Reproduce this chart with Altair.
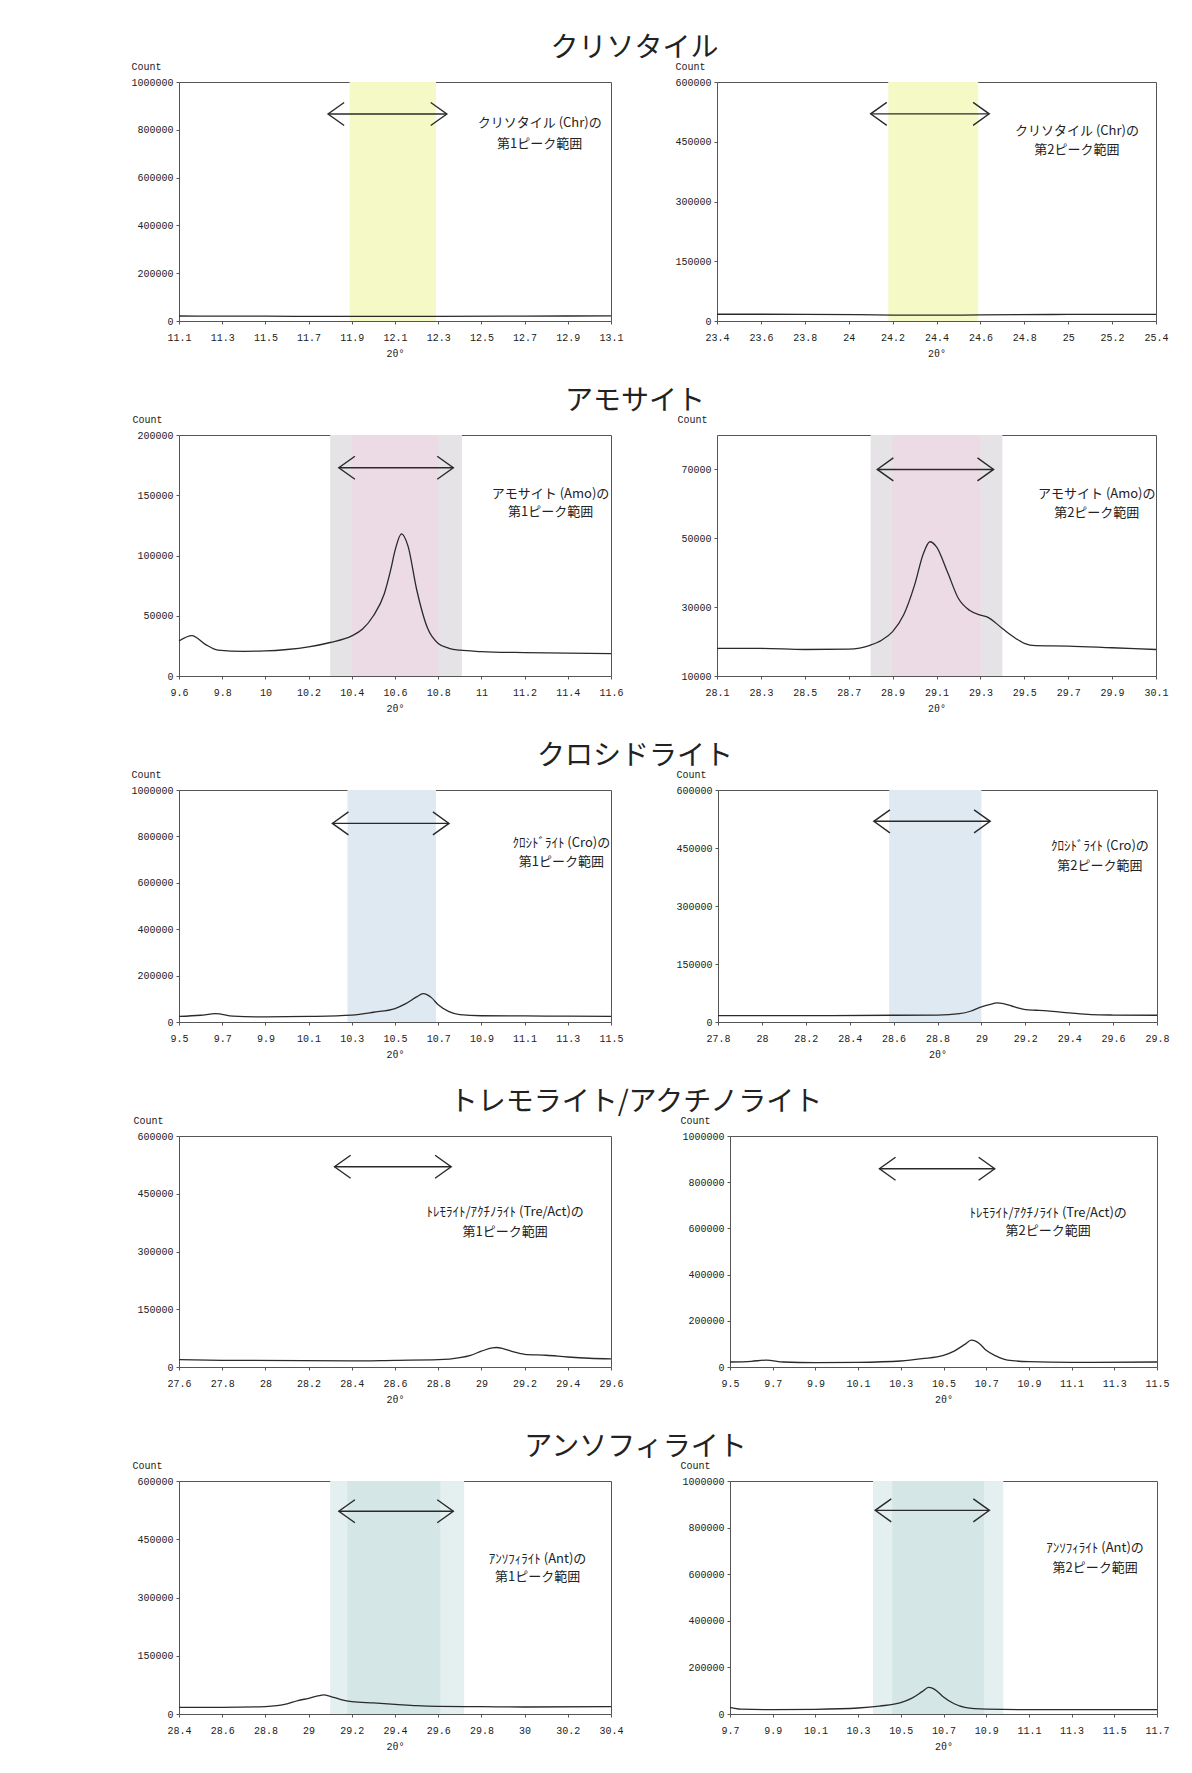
import altair as alt
import pandas as pd

JP = "Noto Sans CJK JP"
NUM = "Liberation Mono"
INK = "#2a2a2a"

# ---------------- text ----------------
row_titles = ["クリソタイル", "アモサイト", "クロシドライト", "トレモライト/アクチノライト", "アンソフィライト"]
note_names = ["クリソタイル (Chr)の", "アモサイト (Amo)の", "ｸﾛｼﾄﾞﾗｲﾄ (Cro)の",
              "ﾄﾚﾓﾗｲﾄ/ｱｸﾁﾉﾗｲﾄ (Tre/Act)の", "ｱﾝｿﾌｨﾗｲﾄ (Ant)の"]
note_ranges = ["第1ピーク範囲", "第2ピーク範囲"]

# ---------------- spectra (2θ, count) ----------------
chr1_x = [11.1, 11.5, 11.9, 12.3, 12.7, 13.1]
chr1_y = [21000, 20000, 19000, 19500, 20500, 21500]
chr2_x = [23.4, 23.8, 24.2, 24.4, 24.6, 25.0, 25.4]
chr2_y = [17000, 16800, 15000, 14500, 15200, 16500, 16800]

amo1_x = [9.6, 9.66, 9.72, 9.78, 9.9, 10.0, 10.1, 10.2, 10.3, 10.4, 10.45, 10.5, 10.55, 10.58,
          10.6, 10.63, 10.66, 10.7, 10.75, 10.8, 10.85, 10.9, 11.0, 11.2, 11.4, 11.6]
amo1_y = [29000, 33500, 26500, 21500, 20500, 20800, 22000, 24200, 27800, 33300, 39000, 50000, 68000, 88000,
          104000, 118000, 108000, 72000, 40000, 27000, 23000, 21400, 20300, 19400, 18900, 18600]
amo2_x = [28.1, 28.3, 28.5, 28.7, 28.8, 28.85, 28.9, 28.95, 29.0, 29.04, 29.07, 29.1, 29.15, 29.2,
          29.25, 29.3, 29.33, 29.4, 29.45, 29.5, 29.55, 29.7, 29.9, 30.1]
amo2_y = [18000, 18000, 17700, 17800, 19000, 20400, 22900, 27700, 36400, 45500, 49000, 47500, 40200, 32500,
          29100, 27700, 27200, 23800, 21400, 19500, 18800, 18700, 18200, 17700]

cro1_x = [9.5, 9.6, 9.67, 9.75, 9.9, 10.1, 10.3, 10.4, 10.5, 10.55, 10.6, 10.63, 10.65, 10.67, 10.7,
          10.75, 10.8, 10.9, 11.1, 11.3, 11.5]
cro1_y = [24000, 29000, 36000, 25000, 22000, 24000, 30000, 42000, 58000, 79000, 108000, 122000, 117000, 104000,
          74000, 45000, 32000, 27000, 26000, 25000, 24000]
cro2_x = [27.8, 28.2, 28.6, 28.8, 28.9, 28.95, 29.0, 29.05, 29.07, 29.1, 29.15, 29.2, 29.25, 29.3,
          29.4, 29.5, 29.6, 29.8]
cro2_y = [16500, 16500, 17400, 18000, 21700, 27800, 39000, 47000, 49600, 47800, 39000, 32000, 30400, 28700,
          23500, 19000, 18000, 17400]

tre1_x = [27.6, 27.8, 28.4, 28.6, 28.8, 28.9, 28.95, 29.0, 29.05, 29.07, 29.1, 29.15, 29.2, 29.3,
          29.4, 29.5, 29.6]
tre1_y = [19000, 17400, 15700, 17400, 19000, 24400, 30500, 41000, 49700, 50600, 48000, 39000, 33000, 30500,
          26000, 22700, 21000]
tre2_x = [9.5, 9.6, 9.67, 9.75, 9.9, 10.1, 10.3, 10.4, 10.5, 10.55, 10.6, 10.63, 10.65, 10.67, 10.7,
          10.75, 10.8, 10.9, 11.1, 11.5]
tre2_y = [21700, 24600, 30000, 21700, 18800, 20000, 26000, 36000, 50600, 69000, 98000, 116000, 112000, 100000,
          72000, 46000, 30000, 23000, 20000, 21700]

ant1_x = [28.4, 28.6, 28.8, 28.9, 28.95, 29.0, 29.05, 29.07, 29.1, 29.15, 29.2, 29.3, 29.4, 29.5,
          29.6, 29.8, 30.0, 30.4]
ant1_y = [17200, 17200, 19000, 25800, 34400, 40400, 47300, 49000, 45600, 37000, 31800, 28400, 25000, 21500,
          19800, 19000, 18000, 19000]
ant2_x = [9.7, 9.75, 9.9, 10.1, 10.3, 10.4, 10.5, 10.55, 10.6, 10.63, 10.65, 10.67, 10.7, 10.75, 10.8,
          10.9, 11.1, 11.7]
ant2_y = [28600, 21000, 18600, 20000, 25700, 34000, 48600, 67000, 96000, 114000, 110000, 98000, 73000, 44000,
          28600, 21000, 18600, 18600]

# ---------------- tick labels ----------------
chr1_ticks = [11.1, 11.3, 11.5, 11.7, 11.9, 12.1, 12.3, 12.5, 12.7, 12.9, 13.1]
chr2_ticks = [23.4, 23.6, 23.8, 24, 24.2, 24.4, 24.6, 24.8, 25, 25.2, 25.4]
amo1_ticks = [9.6, 9.8, 10, 10.2, 10.4, 10.6, 10.8, 11, 11.2, 11.4, 11.6]
amo2_ticks = [28.1, 28.3, 28.5, 28.7, 28.9, 29.1, 29.3, 29.5, 29.7, 29.9, 30.1]
cro1_ticks = [9.5, 9.7, 9.9, 10.1, 10.3, 10.5, 10.7, 10.9, 11.1, 11.3, 11.5]
cro2_ticks = [27.8, 28, 28.2, 28.4, 28.6, 28.8, 29, 29.2, 29.4, 29.6, 29.8]
tre1_ticks = [27.6, 27.8, 28, 28.2, 28.4, 28.6, 28.8, 29, 29.2, 29.4, 29.6]
tre2_ticks = [9.5, 9.7, 9.9, 10.1, 10.3, 10.5, 10.7, 10.9, 11.1, 11.3, 11.5]
ant1_ticks = [28.4, 28.6, 28.8, 29, 29.2, 29.4, 29.6, 29.8, 30, 30.2, 30.4]
ant2_ticks = [9.7, 9.9, 10.1, 10.3, 10.5, 10.7, 10.9, 11.1, 11.3, 11.5, 11.7]
y_ticks_1m = [0, 200000, 400000, 600000, 800000, 1000000]
y_ticks_600k = [0, 150000, 300000, 450000, 600000]
y_ticks_200k = [0, 50000, 100000, 150000, 200000]
y_ticks_amo2 = [10000, 30000, 50000, 70000]

# ---------------- peak ranges (shaded), arrows, notes ----------------
chr1_bands = [(11.89, 12.29)]
chr2_bands = [(24.18, 24.59)]
amo1_bands = [(10.3, 10.91), (10.4, 10.8)]
amo2_bands = [(28.8, 29.4), (28.9, 29.3)]
cro1_bands = [(10.28, 10.69)]
cro2_bands = [(28.58, 29.0)]
ant1_bands = [(29.1, 29.72), (29.18, 29.61)]
ant2_bands = [(10.37, 10.98), (10.46, 10.89)]

chr1_arrow = (11.79, 12.34, 866000)
chr2_arrow = (24.10, 24.64, 520000)
amo1_arrow = (10.34, 10.87, 172800)
amo2_arrow = (28.83, 29.36, 70000)
cro1_arrow = (10.21, 10.75, 856000)
cro2_arrow = (28.51, 29.04, 519000)
tre1_arrow = (28.32, 28.86, 520000)
tre2_arrow = (10.20, 10.74, 858000)
ant1_arrow = (29.14, 29.67, 522000)
ant2_arrow = (10.38, 10.915, 874000)

chr1_note = (12.77, 828000, 740000)
chr2_note = (25.04, 477000, 429000)
amo1_note = (11.32, 151000, 136000)
amo2_note = (29.83, 62900, 57400)
cro1_note = (11.27, 771000, 689000)
cro2_note = (29.54, 454000, 404000)
tre1_note = (29.11, 402000, 350000)
tre2_note = (10.99, 665000, 587000)
ant1_note = (30.06, 399000, 353000)
ant2_note = (11.41, 712000, 627000)

# ---------------- styles ----------------
YELLOW = ["#f5f9c6"]
PINK = ["#e6e3e6", "#ecdbe5"]
BLUE = ["#dee9f2"]
TEAL = ["#e4efef", "#d4e6e5"]

panels = [
    dict(x=chr1_x, y=chr1_y, xt=chr1_ticks, yt=y_ticks_1m, yd=[0, 1000000], bands=chr1_bands, bc=YELLOW,
         arrow=chr1_arrow, note=chr1_note, name=note_names[0], rng=note_ranges[0], w=432, h=239, cx=-48),
    dict(x=chr2_x, y=chr2_y, xt=chr2_ticks, yt=y_ticks_600k, yd=[0, 600000], bands=chr2_bands, bc=YELLOW,
         arrow=chr2_arrow, note=chr2_note, name=note_names[0], rng=note_ranges[1], w=439, h=239, cx=-42),
    dict(x=amo1_x, y=amo1_y, xt=amo1_ticks, yt=y_ticks_200k, yd=[0, 200000], bands=amo1_bands, bc=PINK,
         arrow=amo1_arrow, note=amo1_note, name=note_names[1], rng=note_ranges[0], w=432, h=241, cx=-47),
    dict(x=amo2_x, y=amo2_y, xt=amo2_ticks, yt=y_ticks_amo2, yd=[10000, 80000], bands=amo2_bands, bc=PINK,
         arrow=amo2_arrow, note=amo2_note, name=note_names[1], rng=note_ranges[1], w=439, h=241, cx=-40),
    dict(x=cro1_x, y=cro1_y, xt=cro1_ticks, yt=y_ticks_1m, yd=[0, 1000000], bands=cro1_bands, bc=BLUE,
         arrow=cro1_arrow, note=cro1_note, name=note_names[2], rng=note_ranges[0], w=432, h=232, cx=-48),
    dict(x=cro2_x, y=cro2_y, xt=cro2_ticks, yt=y_ticks_600k, yd=[0, 600000], bands=cro2_bands, bc=BLUE,
         arrow=cro2_arrow, note=cro2_note, name=note_names[2], rng=note_ranges[1], w=439, h=232, cx=-42),
    dict(x=tre1_x, y=tre1_y, xt=tre1_ticks, yt=y_ticks_600k, yd=[0, 600000], bands=[], bc=[],
         arrow=tre1_arrow, note=tre1_note, name=note_names[3], rng=note_ranges[0], w=432, h=231, cx=-46),
    dict(x=tre2_x, y=tre2_y, xt=tre2_ticks, yt=y_ticks_1m, yd=[0, 1000000], bands=[], bc=[],
         arrow=tre2_arrow, note=tre2_note, name=note_names[3], rng=note_ranges[1], w=427, h=231, cx=-50),
    dict(x=ant1_x, y=ant1_y, xt=ant1_ticks, yt=y_ticks_600k, yd=[0, 600000], bands=ant1_bands, bc=TEAL,
         arrow=ant1_arrow, note=ant1_note, name=note_names[4], rng=note_ranges[0], w=432, h=233, cx=-47),
    dict(x=ant2_x, y=ant2_y, xt=ant2_ticks, yt=y_ticks_1m, yd=[0, 1000000], bands=ant2_bands, bc=TEAL,
         arrow=ant2_arrow, note=ant2_note, name=note_names[4], rng=note_ranges[1], w=427, h=233, cx=-50),
]

HEAD_L = "M1.4,-1L0,0L1.4,1"
HEAD_R = "M-1.4,-1L0,0L-1.4,1"


def make_panel(p):
    xs = alt.Scale(domain=[p["xt"][0], p["xt"][-1]], nice=False, zero=False)
    ys = alt.Scale(domain=p["yd"], nice=False, zero=False)
    xax = alt.Axis(values=p["xt"], format="~g", title="2θ°", labelFlush=False)
    yax = alt.Axis(values=p["yt"], format="d", title="Count", titleAngle=0, titleAlign="left",
                   titleBaseline="alphabetic", titleX=p["cx"], titleY=-13)

    def X(f):
        return alt.X(f, type="quantitative", scale=xs, axis=xax)

    def Y(f):
        return alt.Y(f, type="quantitative", scale=ys, axis=yax)

    layers = []
    for (b0, b1), col in zip(p["bands"], p["bc"]):
        bdf = pd.DataFrame({"b0": [b0], "b1": [b1], "lo": [p["yd"][0]], "hi": [p["yd"][1]]})
        layers.append(alt.Chart(bdf).mark_rect(color=col).encode(x=X("b0"), x2="b1", y=Y("lo"), y2="hi"))

    ldf = pd.DataFrame({"x": p["x"], "y": p["y"]})
    layers.append(alt.Chart(ldf).mark_line(color=INK, strokeWidth=1.3, interpolate="monotone")
                  .encode(x=X("x"), y=Y("y")))

    a0, a1, ay = p["arrow"]
    rdf = pd.DataFrame({"a0": [a0], "a1": [a1], "ay": [ay]})
    layers.append(alt.Chart(rdf).mark_rule(color=INK, strokeWidth=1.4).encode(x=X("a0"), x2="a1", y=Y("ay")))
    hdf = pd.DataFrame({"hx": [a0, a1], "hy": [ay, ay], "side": ["L", "R"]})
    layers.append(alt.Chart(hdf).mark_point(filled=False, size=529, strokeWidth=1.4, color=INK, opacity=1)
                  .encode(x=X("hx"), y=Y("hy"),
                          shape=alt.Shape("side:N", scale=alt.Scale(domain=["L", "R"], range=[HEAD_L, HEAD_R]),
                                          legend=None)))

    nx, ny1, ny2 = p["note"]
    tdf = pd.DataFrame({"tx": [nx, nx], "ty": [ny1, ny2], "t": [p["name"], p["rng"]]})
    layers.append(alt.Chart(tdf).mark_text(font=JP, fontSize=13, color="#222", align="center", baseline="middle")
                  .encode(x=X("tx"), y=Y("ty"), text="t:N"))

    return alt.layer(*layers).properties(width=p["w"], height=p["h"])


h_spacing = [50, 52, 51, 55, 55]
rows = []
for r in range(5):
    row = alt.hconcat(make_panel(panels[2 * r]), make_panel(panels[2 * r + 1]), spacing=h_spacing[r]).properties(
        title=alt.TitleParams(row_titles[r], font=JP, fontSize=28, fontWeight="normal", color="#222",
                              anchor="middle", baseline="bottom", offset=-30, dx=-15))
    rows.append(row)

chart = alt.vconcat(*rows, spacing=28).properties(
    padding={"left": 122, "top": 26, "right": 10, "bottom": 10}
).configure_view(
    stroke="#555", strokeWidth=1
).configure_axis(
    labelFont=NUM, labelFontSize=10, labelColor="#222", titleFont=NUM, titleFontSize=10,
    titleFontWeight="normal", titleColor="#222", tickSize=3, tickColor="#555", labelPadding=3,
    titlePadding=6, domain=False, grid=False
).configure_axisX(labelPadding=8)

chart.save("out.html", embed_options={"renderer": "svg", "actions": False})
